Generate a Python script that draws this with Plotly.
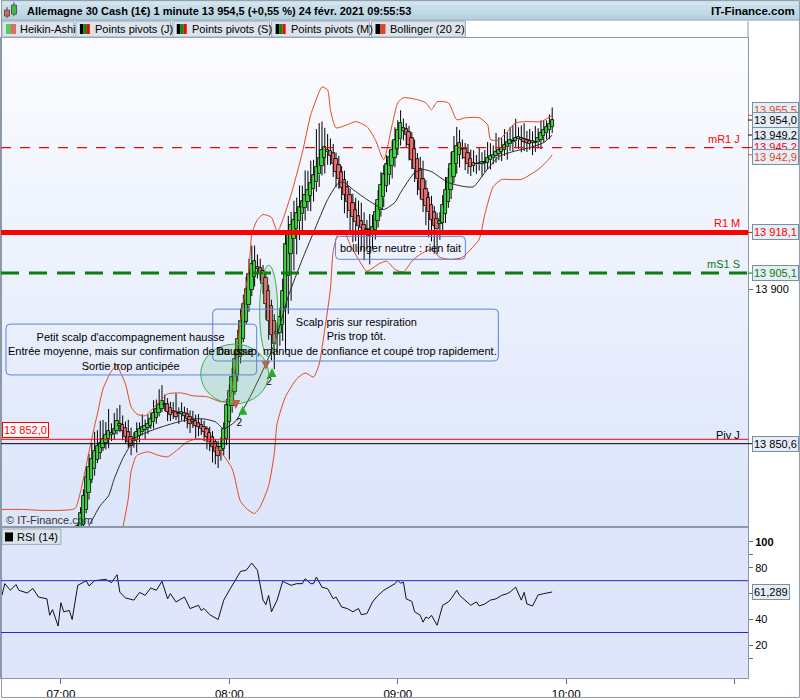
import datetime as dt
import plotly.graph_objects as go

# ---------------- DATA ----------------
BASE = dt.datetime(2021, 2, 24, 7, 0)

candle_start_minute = 6          # first visible Heikin-Ashi candle: 07:06
ha_seed_open = 13818.0
ha_close = [
    13824.2, 13828.3, 13834.0, 13840.1, 13843.3, 13845.8, 13848.4, 13849.9, 13850.9, 13852.2,
    13853.5, 13854.7, 13854.1, 13855.4, 13857.9, 13857.0, 13854.7, 13852.8, 13851.2, 13849.9,
    13852.2, 13854.4, 13855.4, 13856.0, 13856.3, 13857.0, 13858.5, 13860.5, 13861.7, 13863.0,
    13864.3, 13863.3, 13860.8, 13859.8, 13860.5, 13859.2, 13860.2, 13860.8, 13859.5, 13858.5,
    13857.0, 13857.6, 13856.3, 13856.0, 13855.4, 13854.4, 13852.8, 13851.2, 13849.6, 13848.0,
    13846.8, 13849.6, 13855.4, 13862.9, 13867.5, 13871.9, 13877.7, 13884.0, 13889.8, 13895.2,
    13899.9, 13904.7, 13907.9, 13908.9, 13907.0, 13904.7, 13901.5, 13895.2, 13889.8, 13885.3,
    13882.4, 13885.6, 13891.0, 13899.3, 13914.3, 13918.4, 13920.6, 13922.2, 13924.2, 13926.1,
    13928.0, 13929.9, 13931.8, 13934.0, 13936.3, 13939.1, 13942.0, 13944.5, 13945.5, 13944.5,
    13942.6, 13939.8, 13937.5, 13935.0, 13932.4, 13930.2, 13927.7, 13924.8, 13922.9, 13921.3,
    13920.0, 13919.4, 13917.2, 13919.1, 13916.9, 13919.7, 13924.5, 13928.6, 13933.4, 13936.6,
    13939.8, 13942.3, 13944.5, 13947.7, 13950.9, 13953.1, 13951.5, 13949.3, 13946.1, 13941.3,
    13938.2, 13935.0, 13931.8, 13928.6, 13926.4, 13924.5, 13922.2, 13920.3, 13919.1, 13921.6,
    13927.0, 13931.8, 13935.6, 13939.8, 13943.9, 13945.8, 13946.8, 13944.5, 13942.0, 13939.8,
    13939.1, 13939.4, 13939.8, 13940.1, 13940.7, 13940.4, 13942.0, 13942.6, 13942.9, 13943.9,
    13944.5, 13945.2, 13946.1, 13947.1, 13947.7, 13947.4, 13948.4, 13948.7, 13947.7, 13947.1,
    13946.8, 13946.4, 13947.4, 13946.8, 13948.4, 13949.9, 13950.9, 13951.9, 13952.8, 13954.0,
]
wick_hi = [
    1, 2, 2, 3, 4, 5, 6, 5, 7, 6,
    4, 7, 3, 5, 4, 6, 3, 2, 4, 3,
    2, 3, 2, 4, 2, 3, 2, 4, 3, 5,
    5, 3, 2, 2, 3, 6, 2, 3, 2, 2,
    2, 3, 2, 3, 2, 2, 1, 2, 2, 1,
    2, 3, 2, 2, 2, 3, 2, 3, 4, 3,
    4, 5, 6, 5, 4, 3, 2, 2, 2, 2,
    2, 3, 3, 4, 3, 5, 4, 6, 5, 7,
    5, 8, 6, 7, 5, 12, 11, 9, 6, 5,
    4, 3, 2, 3, 2, 3, 2, 2, 3, 4,
    5, 6, 4, 3, 5, 4, 3, 3, 4, 3,
    3, 2, 3, 4, 3, 4, 3, 2, 2, 2,
    3, 2, 4, 6, 3, 2, 3, 2, 2, 3,
    3, 4, 3, 4, 5, 6, 4, 3, 2, 3,
    3, 4, 3, 5, 3, 4, 5, 4, 3, 6,
    4, 3, 5, 3, 4, 5, 6, 3, 4, 5,
    3, 4, 3, 5, 3, 4, 3, 2, 3, 4,
]
wick_lo = [
    0, 1, 1, 1, 2, 1, 2, 1, 2, 1,
    2, 3, 2, 2, 1, 2, 3, 2, 2, 3,
    2, 4, 2, 1, 3, 2, 1, 2, 2, 1,
    1, 2, 3, 2, 2, 1, 3, 2, 2, 3,
    3, 2, 4, 3, 2, 3, 4, 3, 5, 4,
    4, 3, 2, 2, 12, 2, 1, 2, 2, 1,
    1, 2, 2, 3, 3, 2, 3, 5, 6, 8,
    8, 6, 4, 5, 14, 12, 15, 10, 8, 6,
    5, 4, 3, 5, 4, 3, 4, 3, 5, 4,
    3, 4, 5, 3, 4, 6, 5, 7, 8, 6,
    9, 7, 8, 6, 9, 5, 3, 2, 2, 3,
    2, 3, 4, 3, 2, 2, 3, 4, 5, 3,
    4, 5, 3, 4, 6, 8, 7, 9, 8, 5,
    4, 3, 2, 3, 2, 3, 4, 3, 4, 3,
    3, 2, 3, 2, 4, 3, 2, 3, 2, 2,
    2, 3, 2, 4, 2, 3, 2, 3, 4, 3,
    3, 2, 4, 3, 2, 3, 2, 2, 3, 2,
]

# Bollinger (20 2) (minutes after 07:00, price)
bb_up_min = [-21, -14, -7, 0, 5, 7, 10, 12, 13, 15, 18, 20, 21, 23, 25, 27, 30, 32, 36, 38,
             43, 47, 52, 57, 60, 62, 64, 67, 68, 70, 72, 75, 77, 78, 82, 86, 89, 92, 93, 95,
             96, 98, 102, 105, 109, 112, 115, 118, 120, 122, 127, 130, 132, 134, 138, 141, 144, 149, 152, 153,
             156, 159, 162, 166, 171, 175]
bb_up_val = [13829.6, 13829.6, 13829.3, 13829.3, 13829.9, 13835.3, 13848.0, 13856.3, 13860.1, 13868.1,
             13873.8, 13875.7, 13873.8, 13869.7, 13862.4, 13860.1, 13859.5, 13861.1, 13864.9, 13866.5,
             13866.8, 13865.9, 13865.6, 13864.0, 13864.9, 13874.5, 13890.4, 13906.3, 13917.5, 13922.2,
             13923.8, 13922.9, 13918.4, 13919.7, 13930.2, 13943.6, 13955.7, 13963.0, 13964.6, 13963.6,
             13957.3, 13951.5, 13952.5, 13953.5, 13951.9, 13947.7, 13941.3, 13952.5, 13959.5, 13961.1,
             13960.5, 13959.5, 13957.3, 13959.8, 13959.5, 13954.1, 13954.7, 13954.7, 13952.5, 13947.7,
             13947.7, 13950.3, 13953.1, 13953.5, 13953.5, 13955.5]
bb_mid_min = [9, 10, 14, 17, 19, 22, 24, 26, 31, 36, 42, 47, 51, 55, 58, 62, 67, 71, 76, 81,
              86, 90, 95, 99, 101, 104, 109, 113, 115, 119, 121, 126, 129, 132, 138, 144, 147, 151, 156, 161,
              167, 172, 175]
bb_mid_val = [13823.5, 13824.5, 13830.8, 13834.0, 13839.4, 13845.8, 13849.0, 13852.2, 13854.4, 13856.0,
              13857.6, 13858.5, 13858.5, 13857.6, 13855.4, 13857.6, 13864.9, 13872.2, 13882.4, 13897.7,
              13909.5, 13918.1, 13928.6, 13934.0, 13934.0, 13931.8, 13928.6, 13926.4, 13925.4, 13927.7,
              13930.8, 13937.2, 13938.2, 13937.5, 13934.0, 13932.7, 13932.7, 13937.2, 13942.3, 13943.9,
              13945.2, 13946.8, 13949.2]
bb_low_min = [22, 24, 25, 27, 31, 35, 38, 42, 45, 49, 52, 56, 61, 64, 67, 69, 71, 74, 76, 77,
              80, 84, 87, 90, 92, 94, 96, 97, 99, 101, 103, 106, 109, 113, 116, 119, 122, 125, 128, 132,
              135, 139, 143, 146, 149, 151, 154, 157, 160, 164, 166, 170, 173, 175]
bb_low_val = [13823.5, 13833.1, 13841.7, 13846.8, 13848.0, 13846.8, 13846.4, 13849.0, 13851.2, 13852.2,
              13851.5, 13849.0, 13842.6, 13832.1, 13829.2, 13828.3, 13830.5, 13837.2, 13847.4, 13857.0,
              13865.6, 13871.3, 13873.2, 13871.9, 13876.1, 13887.2, 13900.0, 13912.1, 13918.1, 13918.1,
              13914.3, 13909.5, 13905.7, 13907.9, 13908.9, 13906.3, 13905.4, 13908.9, 13911.1, 13912.7,
              13910.1, 13909.5, 13910.1, 13912.7, 13915.9, 13923.8, 13932.7, 13935.0, 13935.0, 13935.0,
              13935.9, 13938.2, 13940.7, 13942.9]

# RSI (14)
rsi_min = [-21, -20, -18, -16, -15, -12, -10, -8, -5, -4,
           -3, -1, 0, 1, 3, 4, 6, 9, 10, 12,
           16, 18, 20, 21, 23, 26, 28, 30, 32, 34,
           36, 38, 39, 41, 44, 46, 49, 50, 51, 53,
           56, 58, 60, 62, 64, 66, 68, 70, 72, 73,
           74, 75, 77, 79, 82, 84, 86, 87, 89, 90,
           91, 93, 95, 97, 98, 100, 102, 104, 106, 107,
           109, 111, 113, 115, 117, 119, 120, 121, 122, 123,
           125, 126, 128, 129, 130, 131, 132, 134, 136, 138,
           139, 141, 142, 144, 146, 148, 149, 151, 153, 155,
           157, 159, 160, 162, 164, 165, 166, 168, 169, 170,
           172, 175]
rsi_val = [58.7, 67.7, 62.6, 67.0, 62.6, 60.5, 64.0, 57.4, 56.0, 43.3,
           47.7, 35.0, 53.0, 46.0, 47.0, 40.0, 66.4, 70.0, 66.0, 70.0,
           71.0, 68.5, 74.6, 61.0, 56.7, 55.0, 61.0, 58.7, 64.4, 62.6,
           69.5, 56.0, 60.0, 53.6, 57.4, 48.5, 51.0, 47.0, 48.5, 43.8,
           40.0, 55.0, 62.6, 70.3, 77.2, 78.0, 83.6, 78.0, 55.0, 51.5,
           58.7, 46.0, 55.0, 69.5, 66.4, 67.7, 67.7, 71.5, 67.7, 67.7,
           72.8, 65.0, 63.8, 56.0, 57.4, 49.7, 48.5, 46.0, 48.5, 43.8,
           44.6, 53.6, 58.7, 62.6, 65.0, 67.7, 70.3, 68.0, 69.0, 56.0,
           54.0, 46.0, 43.3, 38.0, 42.0, 40.8, 43.3, 35.6, 51.0, 53.6,
           56.0, 62.6, 58.7, 55.0, 51.0, 53.6, 50.5, 52.0, 55.0, 56.0,
           58.7, 60.0, 61.3, 65.0, 55.0, 61.0, 52.0, 50.5, 55.0, 59.0,
           60.0, 61.289]
rsi_levels = [70, 30]

pivot_values = [13945.2, 13918.1, 13905.1, 13850.6]
pivot_names = ["mR1 J", "R1 M", "mS1 S", "Piv J"]
left_level = 13852.0
bb_last = [13955.5, 13949.2, 13942.9]     # upper, middle, lower
last_close = 13954.0
rsi_last = 61.289

trade_sell_min = [62.3, 73.0]
trade_sell_price = [13861.7, 13874.2]
trade_buy_min = [64.8, 75.2]
trade_buy_price = [13862.7, 13874.8]
trade_qty_min = [63.5, 74.1]
trade_qty_price = [13857.0, 13870.1]
trade_qty = ["2", "2"]

hour_tick_min = [0, 60, 120, 180, 240]
hour_tick_text = ["07:00", "08:00", "09:00", "10:00", ""]

title_text = "Allemagne 30 Cash (1€) 1 minute 13 954,5 (+0,55 %) 24 févr. 2021 09:55:53"
indicator_buttons = ["Heikin-Ashi", "Points pivots (J)", "Points pivots (S)", "Points pivots (M)", "Bollinger (20 2)"]
note1 = ["Petit scalp d'accompagnement hausse", "Entrée moyenne, mais sur confirmation de hausse", "Sortie trop anticipée"]
note2 = ["Scalp pris sur respiration", "Pris trop tôt.", "Du coup, manque de confiance et coupé trop rapidement."]
note3 = ["bollinger neutre : rien fait"]


# ---------------- HELPERS ----------------
def at(m):
    return BASE + dt.timedelta(minutes=m)

W_PLOT = 748.0
Y_TOP, Y_BOT = 38.0, 680.0
H_PLOT = Y_BOT - Y_TOP
MAIN_BOTTOM_PX = 528.0
RSI_TOP_PX = 530.0


def px(x):
    return x / W_PLOT


def py(y):
    return (Y_BOT - y) / H_PLOT


FONT = "Liberation Sans, Arial, sans-serif"

# Heikin-Ashi open / high / low
ha_open = []
for i, c in enumerate(ha_close):
    if i == 0:
        ha_open.append(ha_seed_open)
    else:
        ha_open.append((ha_open[-1] + ha_close[i - 1]) / 2.0)
body_top = [max(o, c) for o, c in zip(ha_open, ha_close)]
body_bot = [min(o, c) for o, c in zip(ha_open, ha_close)]
ha_high = [t + h for t, h in zip(body_top, wick_hi)]
ha_low = [b - l for b, l in zip(body_bot, wick_lo)]
candle_times = [at(candle_start_minute + i) for i in range(len(ha_close))]

fig = go.Figure()

# wicks (above and below each body)
wx, wy = [], []
for t, hi, lo, tp, bt in zip(candle_times, ha_high, ha_low, body_top, body_bot):
    wx += [t, t, None, t, t, None]
    wy += [tp, hi, None, bt, lo, None]
fig.add_trace(go.Scatter(x=wx, y=wy, mode="lines", line=dict(color="#000000", width=1),
                         showlegend=False, hoverinfo="skip", xaxis="x", yaxis="y"))
# bodies
body_colors = ["#3fd43f" if c >= o else "#ec6f6f" for o, c in zip(ha_open, ha_close)]
fig.add_trace(go.Bar(x=candle_times, y=[max(t - b, 0.3) for t, b in zip(body_top, body_bot)], base=body_bot,
                     width=60000 * 1.2, marker=dict(color=body_colors, line=dict(color="#000000", width=0.8)),
                     showlegend=False, hoverinfo="skip", xaxis="x", yaxis="y"))

band_color = "#e2481e"
fig.add_trace(go.Scatter(x=[at(m) for m in bb_up_min], y=bb_up_val, mode="lines",
                         line=dict(color=band_color, width=1, shape="spline", smoothing=0.6),
                         showlegend=False, hoverinfo="skip", xaxis="x", yaxis="y"))
fig.add_trace(go.Scatter(x=[at(m) for m in bb_low_min], y=bb_low_val, mode="lines",
                         line=dict(color=band_color, width=1, shape="spline", smoothing=0.6),
                         showlegend=False, hoverinfo="skip", xaxis="x", yaxis="y"))
fig.add_trace(go.Scatter(x=[at(m) for m in bb_mid_min], y=bb_mid_val, mode="lines",
                         line=dict(color="#2a2a2a", width=1, shape="spline", smoothing=0.6),
                         showlegend=False, hoverinfo="skip", xaxis="x", yaxis="y"))

# trades
fig.add_trace(go.Scatter(x=[at(m) for m in trade_sell_min], y=trade_sell_price, mode="markers",
                         marker=dict(symbol="arrow-down", size=9, color="#e84545", line=dict(width=0)),
                         showlegend=False, hoverinfo="skip", xaxis="x", yaxis="y"))
fig.add_trace(go.Scatter(x=[at(m) for m in trade_buy_min], y=trade_buy_price, mode="markers",
                         marker=dict(symbol="arrow-up", size=9, color="#22b022", line=dict(width=0)),
                         showlegend=False, hoverinfo="skip", xaxis="x", yaxis="y"))
fig.add_trace(go.Scatter(x=[at(m) for m in trade_qty_min], y=trade_qty_price, mode="text",
                         text=trade_qty, textfont=dict(family=FONT, size=10, color="#000"),
                         showlegend=False, hoverinfo="skip", xaxis="x", yaxis="y"))

# RSI
fig.add_trace(go.Scatter(x=[at(m) for m in rsi_min], y=rsi_val, mode="lines",
                         line=dict(color="#111111", width=1),
                         showlegend=False, hoverinfo="skip", xaxis="x2", yaxis="y2"))

# ---------------- SHAPES ----------------
shapes = []
n_bands = 30
top_rgb, bot_rgb = (251, 252, 255), (220, 229, 250)
band_h = (MAIN_BOTTOM_PX - Y_TOP) / n_bands
for i in range(n_bands):
    f = i / (n_bands - 1)
    col = "rgb(%d,%d,%d)" % tuple(round(a + (b - a) * f) for a, b in zip(top_rgb, bot_rgb))
    y0 = Y_TOP + i * band_h
    shapes.append(dict(type="rect", xref="paper", yref="paper", x0=0, x1=1,
                       y0=py(min(y0 + band_h + 0.6, MAIN_BOTTOM_PX)), y1=py(y0),
                       fillcolor=col, line=dict(width=0), layer="below"))
shapes.append(dict(type="rect", xref="paper", yref="paper", x0=0, x1=1, y0=py(Y_BOT), y1=py(MAIN_BOTTOM_PX),
                   fillcolor="#dfe6fb", line=dict(width=0), layer="below"))

# header bar
head_cols = ["#d2e4ee", "#c9deea", "#c1d8e5", "#b9d2e0"]
for i, c in enumerate(head_cols):
    shapes.append(dict(type="rect", xref="paper", yref="paper", x0=px(0), x1=px(800),
                       y0=py(5 * (i + 1)), y1=py(5 * i), fillcolor=c, line=dict(width=0)))
shapes.append(dict(type="line", xref="paper", yref="paper", x0=px(0), x1=px(800), y0=py(20), y1=py(20),
                   line=dict(color="#8ca3b5", width=1)))
shapes += [
    dict(type="line", xref="paper", yref="paper", x0=px(6), x1=px(6), y0=py(18), y1=py(7), line=dict(color="#444", width=1)),
    dict(type="rect", xref="paper", yref="paper", x0=px(3.5), x1=px(8.5), y0=py(16), y1=py(10),
         fillcolor="#e06060", line=dict(color="#555", width=1)),
    dict(type="line", xref="paper", yref="paper", x0=px(13), x1=px(13), y0=py(16), y1=py(2), line=dict(color="#444", width=1)),
    dict(type="rect", xref="paper", yref="paper", x0=px(10.5), x1=px(15.5), y0=py(14), y1=py(5),
         fillcolor="#40c040", line=dict(color="#555", width=1)),
]

btn_x = [(1, 73), (75, 170), (172, 269), (271, 369), (371, 465)]
icon_sets = [
    [("#55cc55", 5, 10), ("#e26a6a", 10, 15)],
    [("#000000", 79, 82.5), ("#0a8a0a", 82.5, 86), ("#ff0000", 86, 89)],
    [("#000000", 176, 179.5), ("#0a8a0a", 179.5, 183), ("#ff0000", 183, 186)],
    [("#000000", 275, 278.5), ("#0a8a0a", 278.5, 282), ("#ff0000", 282, 285)],
    [("#000000", 375, 380), ("#e2481e", 380, 385)],
]
for (x0, x1), icons in zip(btn_x, icon_sets):
    shapes.append(dict(type="rect", xref="paper", yref="paper", x0=px(x0), x1=px(x1), y0=py(37), y1=py(21),
                       fillcolor="#dbe3eb", line=dict(color="#9aacba", width=1)))
    for col, a, b in icons:
        shapes.append(dict(type="rect", xref="paper", yref="paper", x0=px(a), x1=px(b), y0=py(34), y1=py(24),
                           fillcolor=col, line=dict(width=0)))
shapes.append(dict(type="rect", xref="paper", yref="paper", x0=px(1), x1=px(60), y0=py(546), y1=py(530.5),
                   fillcolor="#dbe3eb", line=dict(color="#9aacba", width=1)))
shapes.append(dict(type="rect", xref="paper", yref="paper", x0=px(4), x1=px(12), y0=py(543), y1=py(534),
                   fillcolor="#000", line=dict(width=0)))

shapes.append(dict(type="line", xref="paper", yref="paper", x0=1, x1=1, y0=py(Y_TOP), y1=py(21),
                   line=dict(color="#8a9aa8", width=1)))
shapes.append(dict(type="rect", xref="paper", yref="paper", x0=px(0.5), x1=px(799.5), y0=py(699.5), y1=py(0.5),
                   line=dict(color="#8a9aa8", width=1)))

pivot_styles = [
    dict(color="#ff0000", width=1.2, dash="10px,9px"),
    dict(color="#ff0000", width=5),
    dict(color="#0a7d0a", width=3, dash="18px,10px"),
    dict(color="#000000", width=1),
]
pivot_text_colors = ["#ff0000", "#ff0000", "#0a7d0a", "#000000"]
for v, st in zip(pivot_values, pivot_styles):
    shapes.append(dict(type="line", xref="paper", yref="y", x0=0, x1=1, y0=v, y1=v, line=st))
shapes.append(dict(type="line", xref="paper", yref="y", x0=0, x1=1, y0=left_level, y1=left_level,
                   line=dict(color="#ff0000", width=1)))

for v in rsi_levels:
    shapes.append(dict(type="line", xref="paper", yref="y2", x0=0, x1=1, y0=v, y1=v,
                       line=dict(color="#2424d8", width=1)))

shapes.append(dict(type="circle", xref="paper", yref="paper", x0=px(200), x1=px(268), y0=py(405), y1=py(345),
                   fillcolor="rgba(90,185,120,0.22)", line=dict(color="#3cb04a", width=1)))
shapes.append(dict(type="circle", xref="paper", yref="paper", x0=px(259), x1=px(277), y0=py(358), y1=py(266),
                   fillcolor="rgba(90,185,120,0.12)", line=dict(color="#3cb04a", width=1)))


def rrect(x0, y0, x1, y1, r=4.0):
    rx, ry = r / W_PLOT, r / H_PLOT
    X0, X1, Yt, Yb = px(x0), px(x1), py(y0), py(y1)
    p = (f"M {X0+rx},{Yt} L {X1-rx},{Yt} Q {X1},{Yt} {X1},{Yt-ry} L {X1},{Yb+ry} "
         f"Q {X1},{Yb} {X1-rx},{Yb} L {X0+rx},{Yb} Q {X0},{Yb} {X0},{Yb+ry} "
         f"L {X0},{Yt-ry} Q {X0},{Yt} {X0+rx},{Yt} Z")
    return dict(type="path", xref="paper", yref="paper", path=p, line=dict(color="#5a84e0", width=1))


shapes.append(rrect(5, 325, 256, 376))
shapes.append(rrect(212, 310, 498, 362))
shapes.append(rrect(335, 237, 465, 260))

right_vals = [bb_last[0], last_close, bb_last[1], pivot_values[0], bb_last[2], pivot_values[1], pivot_values[2], pivot_values[3]]
right_cols = ["#e2481e", "#000000", "#000000", "#ff0000", "#e2481e", "#ff0000", "#0a7d0a", "#000000"]
right_shift = [5, 0, 0, 1, -2, 0, 0, 0]
for v, c in zip(right_vals, right_cols):
    shapes.append(dict(type="line", xref="paper", yref="y", x0=1, x1=px(752), y0=v, y1=v,
                       line=dict(color=c, width=1)))

# ---------------- ANNOTATIONS ----------------
ann = []
ann.append(dict(xref="paper", yref="paper", x=px(24), y=py(10.5), xanchor="left", yanchor="middle",
                text="<b>" + title_text + "</b>", showarrow=False, font=dict(family=FONT, size=11, color="#000")))
ann.append(dict(xref="paper", yref="paper", x=px(797), y=py(10.5), xanchor="right", yanchor="middle",
                text="<b>IT-Finance.com</b>", showarrow=False, font=dict(family=FONT, size=11.5, color="#000")))
btn_text_x = [17, 92, 189, 288, 388]
for tx, label in zip(btn_text_x, indicator_buttons):
    ann.append(dict(xref="paper", yref="paper", x=px(tx), y=py(29), xanchor="left", yanchor="middle",
                    text=label, showarrow=False, font=dict(family=FONT, size=11, color="#000")))
ann.append(dict(xref="paper", yref="paper", x=px(14), y=py(538.5), xanchor="left", yanchor="middle",
                text="RSI (14)", showarrow=False, font=dict(family=FONT, size=11, color="#000")))

for v, name, c in zip(pivot_values, pivot_names, pivot_text_colors):
    ann.append(dict(xref="paper", yref="y", x=px(742), y=v, xanchor="right", yanchor="bottom", yshift=1,
                    text=name, showarrow=False, font=dict(family=FONT, size=11, color=c)))


def fr(v, nd=1):
    return f"{v:,.{nd}f}".replace(",", " ").replace(".", ",")


for v, c, s in zip(right_vals, right_cols, right_shift):
    ann.append(dict(xref="paper", yref="y", x=px(752), y=v, xanchor="left", yanchor="middle", yshift=s,
                    text=fr(v), showarrow=False, bgcolor="#e5edf6", bordercolor="#7b8fa3", borderwidth=1, borderpad=1,
                    font=dict(family=FONT, size=11, color=c)))
ann.append(dict(xref="paper", yref="y2", x=px(752), y=rsi_last, xanchor="left", yanchor="middle",
                text=fr(rsi_last, 3), showarrow=False, bgcolor="#e5edf6", bordercolor="#7b8fa3", borderwidth=1,
                borderpad=1, font=dict(family=FONT, size=11, color="#000")))
ann.append(dict(xref="paper", yref="y", x=px(1), y=left_level, xanchor="left", yanchor="bottom", yshift=1,
                text=fr(left_level), showarrow=False, bgcolor="#ffffff", bordercolor="#ff0000", borderwidth=1,
                borderpad=1, font=dict(family=FONT, size=11, color="#ff0000")))

ann.append(dict(xref="paper", yref="paper", x=px(130), y=py(352), xanchor="center", yanchor="middle",
                text="<br>".join(note1), showarrow=False, align="center", font=dict(family=FONT, size=11, color="#000")))
ann.append(dict(xref="paper", yref="paper", x=px(356), y=py(337), xanchor="center", yanchor="middle",
                text="<br>".join(note2), showarrow=False, align="center", font=dict(family=FONT, size=11, color="#000")))
ann.append(dict(xref="paper", yref="paper", x=px(400), y=py(249), xanchor="center", yanchor="middle",
                text=note3[0], showarrow=False, font=dict(family=FONT, size=11, color="#000")))
ann.append(dict(xref="paper", yref="paper", x=px(3), y=py(522), xanchor="left", yanchor="middle",
                text="© IT-Finance.com", showarrow=False, font=dict(family=FONT, size=11, color="#333")))

# ---------------- LAYOUT ----------------
x_range = [at((0 - 60) / 2.811), at((W_PLOT - 60) / 2.811)]
axis_line = "#8a9aa8"
fig.update_layout(
    width=800, height=700, autosize=False,
    margin=dict(l=0, r=52, t=38, b=20),
    paper_bgcolor="#ffffff", plot_bgcolor="rgba(0,0,0,0)",
    showlegend=False, bargap=0,
    font=dict(family=FONT, size=11, color="#000"),
    shapes=shapes, annotations=ann,
    xaxis=dict(domain=[0, 1], anchor="y", type="date", range=x_range, showticklabels=False, ticks="",
               showgrid=False, zeroline=False, showline=True, mirror=True, linecolor=axis_line,
               rangeslider=dict(visible=False), fixedrange=True),
    yaxis=dict(domain=[py(MAIN_BOTTOM_PX), 1], anchor="x", side="right",
               range=[13918.1 - (MAIN_BOTTOM_PX - 233) / 3.14, 13918.1 + (233 - Y_TOP) / 3.14],
               tickvals=[13900], ticktext=["13 900"], ticks="outside", ticklen=4, tickcolor="#607080",
               tickfont=dict(family=FONT, size=11, color="#000"),
               showgrid=False, zeroline=False, showline=True, mirror=True, linecolor=axis_line),
    xaxis2=dict(domain=[0, 1], anchor="y2", type="date", range=x_range,
                tickvals=[at(m) for m in hour_tick_min], ticktext=hour_tick_text,
                ticks="outside", ticklen=5, tickcolor="#607080",
                tickfont=dict(family=FONT, size=11.5, color="#000"),
                showgrid=False, zeroline=False, showline=True, mirror=True, linecolor=axis_line,
                rangeslider=dict(visible=False)),
    yaxis2=dict(domain=[0, py(RSI_TOP_PX)], anchor="x2", side="right", range=[-5.1, 110.3],
                tickvals=[100, 90, 80, 60, 40, 20, 10], ticktext=["<b>100</b>", "", "80", "", "40", "20", ""],
                ticks="outside", ticklen=4, tickcolor="#607080",
                tickfont=dict(family=FONT, size=11, color="#000"),
                showgrid=False, zeroline=False, showline=True, mirror=True, linecolor=axis_line),
)

fig.write_html("out.html", config={"displayModeBar": False},
               post_script="document.body.style.margin='0px';document.body.style.overflow='hidden';")
